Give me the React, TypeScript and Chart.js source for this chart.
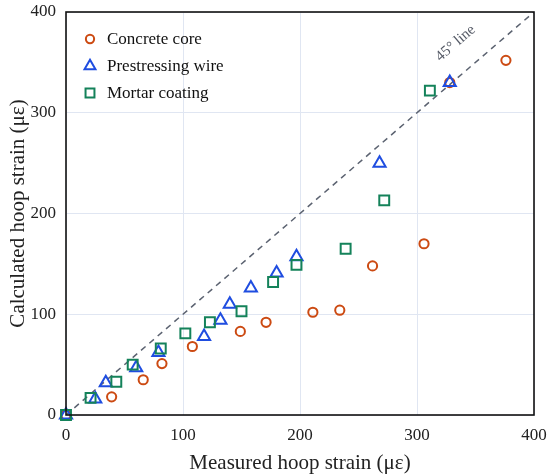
import React, { useEffect, useRef } from "react";
import { Chart, registerables } from "chart.js";

Chart.register(...registerables);

// values (microstrain)
const seriesNames = ["Concrete core", "Prestressing wire", "Mortar coating"];
const concreteMeasured = [0, 39, 66, 82, 108, 149, 171, 211, 234, 262, 306, 328, 376];
const concreteCalculated = [0, 18, 35, 51, 68, 83, 92, 102, 104, 148, 170, 330, 352];
const wireMeasured = [0, 25, 34, 60, 79, 118, 132, 140, 158, 180, 197, 268, 328];
const wireCalculated = [0, 16, 32, 47, 62, 78, 94, 110, 126, 141, 157, 250, 330];
const mortarMeasured = [0, 21, 43, 57, 81, 102, 123, 150, 177, 197, 239, 272, 311];
const mortarCalculated = [0, 17, 33, 50, 66, 81, 92, 103, 132, 149, 165, 213, 322];
const referenceLine = [0, 400];
const axisTicks = [0, 100, 200, 300, 400];

const colors = ["#cc4a12", "#1f4de0", "#14825a"];
const styles = ["circle", "triangle", "rect"];
const radii = [4.6, 7, 7];
const serif = "'Liberation Serif', 'Times New Roman', serif";

const toPoints = (xs: number[], ys: number[]) => xs.map((x, i) => ({ x, y: ys[i] }));

function drawMarker(ctx: CanvasRenderingContext2D, style: string, x: number, y: number, r: number) {
  ctx.beginPath();
  if (style === "circle") {
    ctx.arc(x, y, r, 0, Math.PI * 2);
  } else if (style === "triangle") {
    for (let k = 0; k < 3; k++) {
      const a = (k * 2 * Math.PI) / 3;
      const px = x + Math.sin(a) * r;
      const py = y - Math.cos(a) * r;
      if (k === 0) ctx.moveTo(px, py);
      else ctx.lineTo(px, py);
    }
    ctx.closePath();
  } else {
    const s = Math.SQRT1_2 * r;
    ctx.rect(x - s, y - s, 2 * s, 2 * s);
  }
  ctx.stroke();
}

const framePlugin = {
  id: "frame",
  afterDatasetsDraw(chart: any) {
    const { ctx, chartArea, scales } = chart;
    ctx.save();
    // box round the plot
    ctx.strokeStyle = "#111";
    ctx.lineWidth = 1.6;
    ctx.strokeRect(chartArea.left, chartArea.top, chartArea.right - chartArea.left, chartArea.bottom - chartArea.top);

    // legend inside plot
    ctx.font = `17px ${serif}`;
    ctx.textBaseline = "middle";
    seriesNames.forEach((name, i) => {
      const y = chartArea.top + 27 + i * 27;
      ctx.strokeStyle = colors[i];
      ctx.lineWidth = 2;
      drawMarker(ctx, styles[i], 90, y, radii[i] * 0.9);
      ctx.fillStyle = "#111";
      ctx.fillText(name, 107, y + 1);
    });

    // 45 degree line label
    const x0 = scales.x.getPixelForValue(0);
    const y0 = scales.y.getPixelForValue(0);
    const x1 = scales.x.getPixelForValue(400);
    const y1 = scales.y.getPixelForValue(400);
    const angle = Math.atan2(y1 - y0, x1 - x0);
    ctx.translate(scales.x.getPixelForValue(333), scales.y.getPixelForValue(369));
    ctx.rotate(angle);
    ctx.fillStyle = "#555a66";
    ctx.font = `15px ${serif}`;
    ctx.textAlign = "center";
    ctx.fillText("45\u00b0 line", 0, 0);
    ctx.restore();
  },
};

const App: React.FC = () => {
  const chartRef = useRef<HTMLCanvasElement>(null);

  useEffect(() => {
    document.body.style.margin = "0";
    let chart: Chart | null = null;
    if (chartRef.current) {
      const ctx = chartRef.current.getContext("2d");
      if (ctx) {
        const measured = [concreteMeasured, wireMeasured, mortarMeasured];
        const calculated = [concreteCalculated, wireCalculated, mortarCalculated];
        const pointSets = seriesNames.map((name, i) => ({
          type: "scatter" as const,
          label: name,
          data: toPoints(measured[i], calculated[i]),
          pointStyle: styles[i] as any,
          pointRadius: radii[i],
          pointBorderColor: colors[i],
          pointBackgroundColor: "rgba(255,255,255,0)",
          pointBorderWidth: 2,
          borderColor: colors[i],
          clip: false as any,
          order: 3 - i,
        }));
        chart = new Chart(ctx, {
          type: "scatter",
          data: {
            datasets: [
              {
                type: "line" as const,
                label: "45° line",
                data: toPoints(referenceLine, referenceLine),
                borderColor: "#5b6270",
                borderWidth: 1.5,
                borderDash: [6, 5],
                pointRadius: 0,
                fill: false,
                order: 10,
              } as any,
              ...pointSets,
            ],
          },
          options: {
            animation: false,
            responsive: false,
            maintainAspectRatio: false,
            layout: { padding: { top: 12, right: 16, left: 6, bottom: 0 } },
            plugins: {
              legend: { display: false },
              tooltip: { enabled: false },
            },
            scales: {
              x: {
                type: "linear",
                min: 0,
                max: 400,
                afterBuildTicks: (s: any) => {
                  s.ticks = axisTicks.map((v) => ({ value: v }));
                },
                afterFit: (s: any) => {
                  s.height = 61;
                  s.paddingLeft = 0;
                  s.paddingRight = 0;
                },
                grid: { color: "#e0e6f2", lineWidth: 1, drawTicks: false },
                border: { display: false },
                ticks: {
                  padding: 10,
                  color: "#222",
                  font: { family: serif, size: 17 },
                },
                title: {
                  display: true,
                  text: "Measured hoop strain (\u03bc\u03b5)",
                  color: "#222",
                  font: { family: serif, size: 21 },
                  padding: { top: 0, bottom: 0 },
                },
              },
              y: {
                type: "linear",
                min: 0,
                max: 400,
                afterBuildTicks: (s: any) => {
                  s.ticks = axisTicks.map((v) => ({ value: v }));
                },
                afterFit: (s: any) => {
                  s.width = 60;
                  s.paddingTop = 0;
                  s.paddingBottom = 0;
                },
                grid: { color: "#e0e6f2", lineWidth: 1, drawTicks: false },
                border: { display: false },
                ticks: {
                  padding: 10,
                  color: "#222",
                  font: { family: serif, size: 17 },
                },
                title: {
                  display: true,
                  text: "Calculated hoop strain (\u03bc\u03b5)",
                  color: "#222",
                  font: { family: serif, size: 21 },
                  padding: { top: 0, bottom: 2 },
                },
              },
            },
          },
          plugins: [framePlugin],
        });
      }
    }
    return () => {
      if (chart) chart.destroy();
    };
  }, []);

  return (
    <div style={{ width: 550, height: 476, background: "#fff" }}>
      <canvas ref={chartRef} width={550} height={476} />
    </div>
  );
};

export default App;
